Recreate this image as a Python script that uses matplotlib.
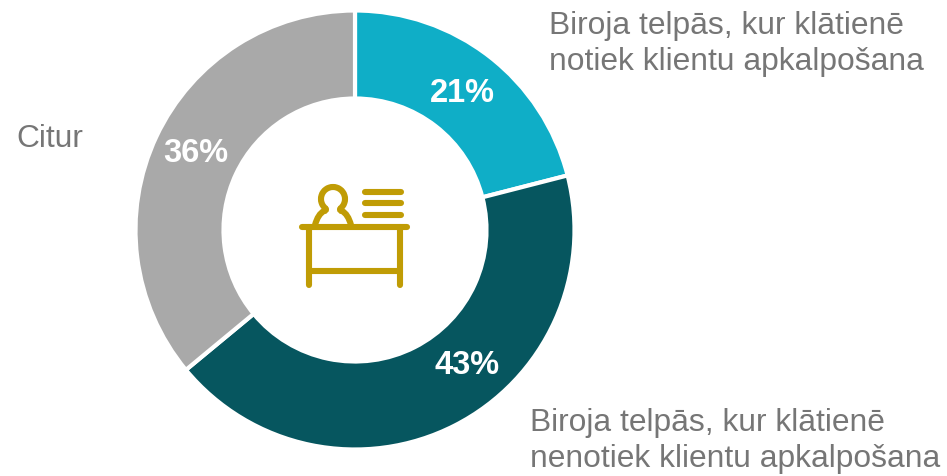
#!/usr/bin/env python3

import matplotlib
from matplotlib import pyplot as plt
from matplotlib.patches import Arc, PathPatch
from matplotlib.path import Path

matplotlib.use('agg')
plt.rcParams['font.family'] = ['Liberation Sans', 'DejaVu Sans']

W, H = 947, 476

categories = [
    "Biroja telpās, kur klātienē\nnotiek klientu apkalpošana",
    "Biroja telpās, kur klātienē\nnenotiek klientu apkalpošana",
    "Citur",
]
values = [21, 43, 36]
colors = ["#0FAEC7", "#06565F", "#A9A9A9"]

GOLD = "#C09C05"
GREY = "#767676"

fig = plt.figure(figsize=(W / 100, H / 100), dpi=100)
ax = fig.add_axes([0, 0, 1, 1])

cx, cy, radius = 355, H - 230, 219.5

wedges, _ = ax.pie(
    values, colors=colors, startangle=90, counterclock=False,
    center=(cx, cy), radius=radius,
    wedgeprops=dict(width=radius - 131.5, edgecolor="white", linewidth=3),
)

ax.set_xlim(0, W)
ax.set_ylim(0, H)
ax.set_aspect("equal")
ax.axis("off")

# percent labels
pct_pos = [(462, 94), (467, 366), (196, 153)]
for val, (x, y) in zip(values, pct_pos):
    ax.text(x, H - y, f"{val}%", color="white", fontsize=23.5, fontweight="bold",
            ha="center", va="center")

# category labels
label_pos = [(549, 44), (530, 441), (16, 139)]
for lab, (x, y) in zip(categories, label_pos):
    ax.text(x, H - y, lab, color=GREY, fontsize=22.9, ha="left", va="center", linespacing=1.29)


def stroke(xs, ys):
    ax.plot(xs, [H - v for v in ys], color=GOLD, lw=4.4, solid_capstyle="round", solid_joinstyle="round")


# desk icon
stroke([302, 407], [227, 227])
stroke([309, 309], [227, 285])
stroke([400, 400], [227, 285])
stroke([309, 400], [271, 271])
for y in [192, 203, 215]:
    stroke([365, 401], [y, y])
ax.add_patch(Arc((333, H - 199), 24, 24, theta1=-55, theta2=235, ec=GOLD, lw=4.4))
for sign in [-1, 1]:
    body = Path(
        [(333 + sign * 7, H - 209), (333 + sign * 7, H - 211), (333 + sign * 9, H - 211),
         (333 + sign * 15, H - 214), (333 + sign * 18, H - 225)],
        [Path.MOVETO, Path.CURVE3, Path.CURVE3, Path.CURVE3, Path.CURVE3],
    )
    ax.add_patch(PathPatch(body, fill=False, ec=GOLD, lw=4.4, capstyle="round"))

fig.savefig("out.png", dpi=100, facecolor="white")
